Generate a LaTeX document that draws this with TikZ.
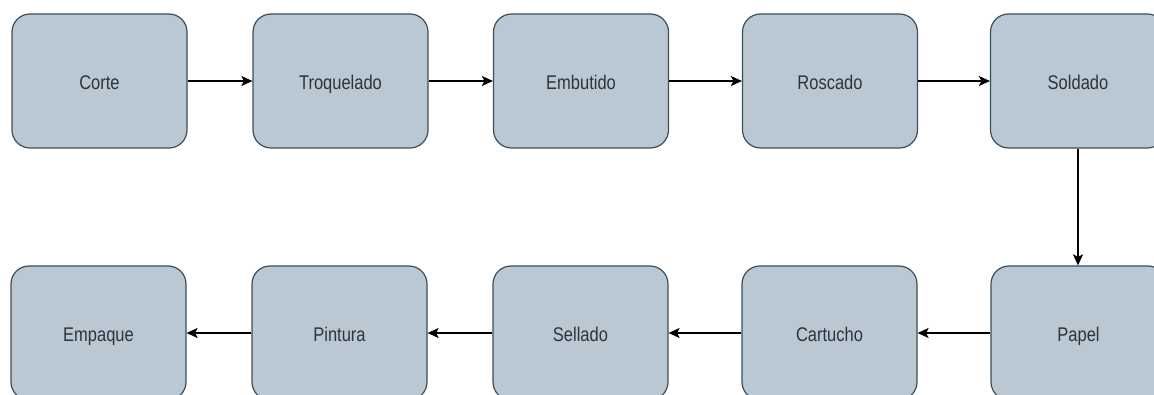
\documentclass[tikz,border=0pt]{standalone}
\usepackage{fontspec}
\setmainfont{Liberation Sans}
\usetikzlibrary{arrows.meta}
\definecolor{boxfill}{HTML}{BAC8D3}
\definecolor{boxline}{HTML}{3C4E5C}
\definecolor{txt}{HTML}{2E3338}
\newcommand{\lbl}[1]{\raisebox{0pt}[16.2pt][0pt]{\scalebox{1}[1.2]{\fontsize{16.5}{19}\selectfont #1}}}
\begin{document}
\begin{tikzpicture}[x=1pt,y=-1pt,
  procbox/.style={draw=boxline, fill=boxfill, line width=1.2pt, rounded corners=18pt,
    minimum width=175pt, minimum height=134pt, inner sep=0pt, text=txt},
  flow/.style={line width=1.3pt, -{Stealth[length=11pt,width=10pt,inset=2.5pt]}}]
\useasboundingbox (0,0) rectangle (1154,395);
\clip (0,0) rectangle (1154,395);
\node[procbox] (corte) at (99.5,81) {\lbl{Corte}};
\node[procbox] (troq) at (340.5,81) {\lbl{Troquelado}};
\node[procbox] (embu) at (581,81) {\lbl{Embutido}};
\node[procbox] (rosc) at (830,81) {\lbl{Roscado}};
\node[procbox] (sold) at (1078,81) {\lbl{Soldado}};
\node[procbox] (empa) at (98.5,333) {\lbl{Empaque}};
\node[procbox] (pint) at (339.5,333) {\lbl{Pintura}};
\node[procbox] (sell) at (580.5,333) {\lbl{Sellado}};
\node[procbox] (cart) at (829.5,333) {\lbl{Cartucho}};
\node[procbox] (pape) at (1078.5,333) {\lbl{Papel}};
\draw[flow] (corte) -- (troq);
\draw[flow] (troq) -- (embu);
\draw[flow] (embu) -- (rosc);
\draw[flow] (rosc) -- (sold);
\draw[flow] (sold.south) -- (sold.south |- pape.north);
\draw[flow] (pape) -- (cart);
\draw[flow] (cart) -- (sell);
\draw[flow] (sell) -- (pint);
\draw[flow] (pint) -- (empa);
\end{tikzpicture}
\end{document}
